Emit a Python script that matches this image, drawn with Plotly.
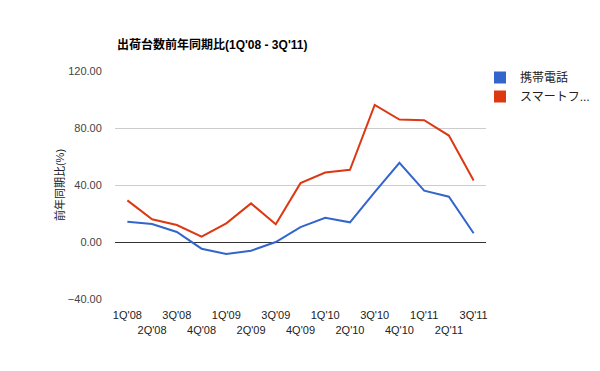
import plotly.graph_objects as go

quarters = ["1Q'08", "2Q'08", "3Q'08", "4Q'08", "1Q'09", "2Q'09", "3Q'09", "4Q'09",
            "1Q'10", "2Q'10", "3Q'10", "4Q'10", "1Q'11", "2Q'11", "3Q'11"]
mobile = [14.2, 12.6, 7.0, -4.7, -8.4, -6.1, 0.0, 10.5, 17.0, 13.8, 35.0, 55.6, 36.0, 31.8, 6.1]
smartphone = [29.2, 15.9, 11.9, 3.7, 13.1, 27.1, 12.4, 41.3, 48.8, 50.7, 96.2, 85.9, 85.5, 74.7, 43.2]
series_names = ["携帯電話", "スマートフ..."]
colors = ["#3366cc", "#dc3912"]
y_ticks = [-40, 0, 40, 80, 120]

tick_text = [q if i % 2 == 0 else "<br>" + q for i, q in enumerate(quarters)]

font_family = "Arial, Liberation Sans, Noto Sans CJK JP, sans-serif"

fig = go.Figure()
for name, vals, col in zip(series_names, [mobile, smartphone], colors):
    fig.add_trace(go.Scatter(x=list(range(len(quarters))), y=vals, mode="lines",
                             line=dict(color=col, width=2), showlegend=False,
                             hoverinfo="skip"))
for name, col in zip(series_names, colors):
    fig.add_trace(go.Scatter(x=[None], y=[None], mode="markers", name=name,
                             marker=dict(symbol="square", size=12, color=col)))

fig.update_layout(
    width=600, height=371,
    margin=dict(l=115, r=114, t=71, b=72, autoexpand=False),
    paper_bgcolor="white", plot_bgcolor="white",
    font=dict(family=font_family, size=11, color="#222222"),
    title=dict(text="<b>出荷台数前年同期比(1Q'08 - 3Q'11)</b>", x=117/600, xanchor="left",
               y=1 - 45/371, yanchor="middle",
               font=dict(size=12, color="#000000")),
    legend=dict(x=1.0 - 6/371, xanchor="left", y=1 + 8/228, yanchor="top",
                font=dict(size=12, color="#222222"), itemwidth=30,
                tracegroupgap=0, bgcolor="rgba(0,0,0,0)"),
    xaxis=dict(tickmode="array", tickvals=list(range(len(quarters))), ticktext=tick_text,
               range=[-0.5, len(quarters) - 0.5], showgrid=False, zeroline=False,
               showline=False, ticks="outside", ticklen=6, tickcolor="rgba(0,0,0,0)",
               tickangle=0, automargin=False,
               tickfont=dict(size=11, color="#222222")),
    yaxis=dict(range=[-40, 120], tickvals=y_ticks, tickformat=".2f",
               showgrid=True, gridcolor="#cccccc", gridwidth=1,
               zeroline=True, zerolinecolor="#333333", zerolinewidth=1,
               showline=False, ticks="outside", ticklen=10, tickcolor="rgba(0,0,0,0)",
               tickfont=dict(size=11, color="#444444"), automargin=False,
               title=dict(text="前年同期比(%)", font=dict(size=11, color="#222222"), standoff=0)),
)

fig.write_html("out.html", config={"displayModeBar": False},
               post_script="document.body.style.margin='0';document.body.style.padding='0';")
